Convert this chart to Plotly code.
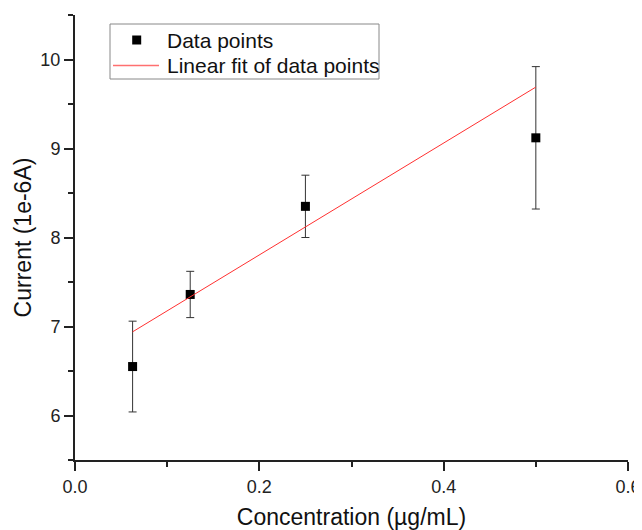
import plotly.graph_objects as go

# Data
concentration = [0.0625, 0.125, 0.25, 0.5]
current = [6.55, 7.36, 8.35, 9.12]
current_err = [0.51, 0.26, 0.35, 0.80]

fit_x = [0.0625, 0.5]
fit_y = [6.94, 9.69]

x_ticks = [0.0, 0.2, 0.4, 0.6]
x_tick_labels = ["0.0", "0.2", "0.4", "0.6"]
y_ticks = [6, 7, 8, 9, 10]
y_tick_labels = ["6", "7", "8", "9", "10"]

series_names = ["Data points", "Linear fit of data points"]

FONT = "Arial, Liberation Sans, sans-serif"
FIT_COLOR = "#ff3030"

# Figure is 634x522 so that with the page's 8px body margin it fills the 642x530 window
FIG_W, FIG_H = 634, 522
M_L, M_R, M_T, M_B = 67, 14, 7, 70
PLOT_W = FIG_W - M_L - M_R
PLOT_H = FIG_H - M_T - M_B


def px(x):  # figure pixel -> paper x
    return (x - M_L) / PLOT_W


def py(y):  # figure pixel -> paper y
    return (FIG_H - M_B - y) / PLOT_H


fig = go.Figure()
fig.add_trace(go.Scatter(
    x=concentration, y=current, mode="markers", name=series_names[0],
    marker=dict(symbol="square", size=9, color="black"),
    error_y=dict(type="data", array=current_err, visible=True,
                 color="#333333", thickness=1, width=4),
    showlegend=False,
))
fig.add_trace(go.Scatter(
    x=fit_x, y=fit_y, mode="lines", name=series_names[1],
    line=dict(color=FIT_COLOR, width=1),
    showlegend=False,
))

# Legend drawn as a framed box (decoration, in figure pixels minus page offset)
LG_L, LG_R, LG_T, LG_B = 102, 371, 16, 71
ROW1, ROW2 = 32, 57.5
shapes = [
    dict(type="rect", xref="paper", yref="paper",
         x0=px(LG_L), x1=px(LG_R), y0=py(LG_B), y1=py(LG_T),
         line=dict(color="#888888", width=1), fillcolor="white", layer="above"),
    dict(type="rect", xref="paper", yref="paper",
         x0=px(124.2), x1=px(133.2), y0=py(ROW1 + 4.5), y1=py(ROW1 - 4.5),
         line=dict(width=0), fillcolor="black", layer="above"),
    dict(type="rect", xref="paper", yref="paper",
         x0=px(105), x1=px(151), y0=py(ROW2 + 0.75), y1=py(ROW2 - 0.75),
         line=dict(width=0), fillcolor="#ff7070", layer="above"),
]
annotations = [
    dict(text=series_names[0], xref="paper", yref="paper", x=px(157), y=py(ROW1),
         xanchor="left", yanchor="middle", showarrow=False,
         font=dict(family=FONT, size=21, color="#111111")),
    dict(text=series_names[1], xref="paper", yref="paper", x=px(157), y=py(ROW2),
         xanchor="left", yanchor="middle", showarrow=False,
         font=dict(family=FONT, size=21, color="#111111")),
]

axis_common = dict(
    showgrid=False, zeroline=False, showline=True, linecolor="#222222",
    linewidth=2, ticks="outside", ticklen=9, tickwidth=1.5, tickcolor="#222222",
    tickfont=dict(family=FONT, size=18, color="#222222"),
    mirror=False, automargin=False,
)

fig.update_layout(
    width=FIG_W, height=FIG_H, autosize=False,
    margin=dict(l=M_L, r=M_R, t=M_T, b=M_B),
    paper_bgcolor="white", plot_bgcolor="white",
    showlegend=False,
    shapes=shapes,
    annotations=annotations,
    xaxis=dict(
        range=[0, 0.6], tickvals=x_ticks, ticktext=x_tick_labels,
        minor=dict(dtick=0.1, ticks="outside", ticklen=5, tickcolor="#222222", tickwidth=1.5),
        title=dict(text="Concentration (µg/mL)", standoff=13,
                   font=dict(family=FONT, size=23, color="#111111")),
        **axis_common,
    ),
    yaxis=dict(
        range=[5.5, 10.5], tickvals=y_ticks, ticktext=y_tick_labels,
        minor=dict(dtick=0.5, ticks="outside", ticklen=5, tickcolor="#222222", tickwidth=1.5),
        title=dict(text="Current (1e-6A)", standoff=2,
                   font=dict(family=FONT, size=23, color="#111111")),
        **axis_common,
    ),
)

fig.write_html("out.html")
